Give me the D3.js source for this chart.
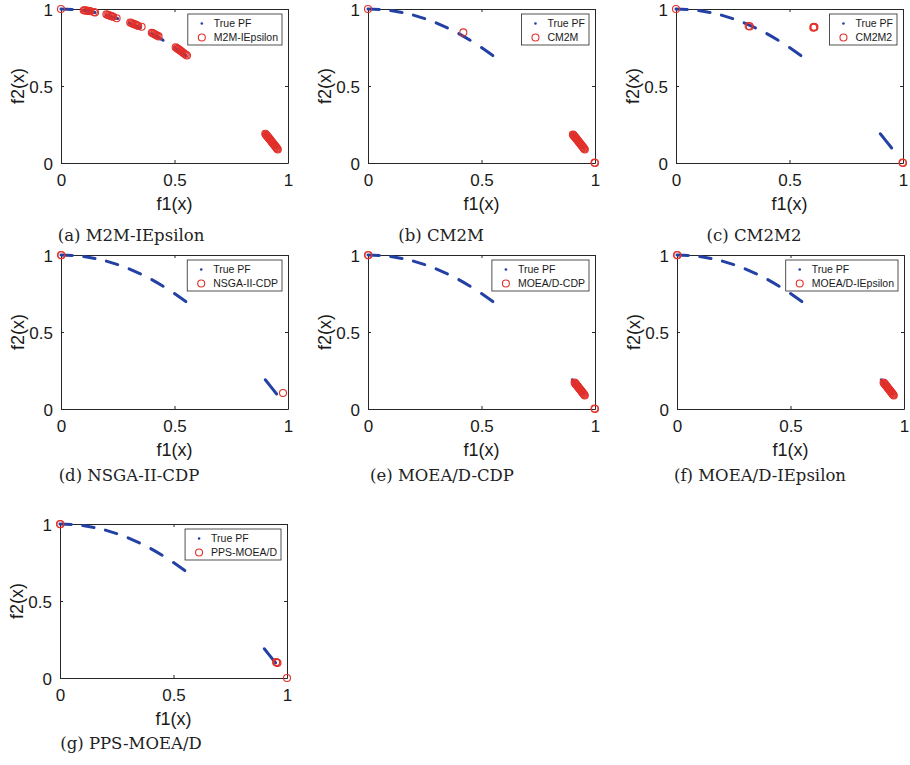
<!DOCTYPE html>
<html lang="en">

<head>
    <meta charset="UTF-8">
    <title>PF results</title>
    <script src="https://cdn.jsdelivr.net/npm/d3@7"></script>
    <style>
        body {
            margin: 0;
            background: #fff;
        }

        .axis path,
        .axis line {
            fill: none;
            stroke: #262626;
        }

        .axis text {
            font-family: "Liberation Sans", Arial, sans-serif;
            font-size: 17px;
            fill: #1a1a1a;
        }
    </style>
</head>

<body>
    <svg id="fig" width="910" height="765"></svg>
</body>

<script>
    // ticks
    const tickVals = [0, 0.5, 1]
    const tickLabels = ['0', '0.5', '1']

    // true PF, one short piece per row (f1 / f2)
    const pfF1 = [
        [0, 0.025, 0.05],
        [0.1, 0.125, 0.15],
        [0.2, 0.225, 0.25],
        [0.3, 0.325, 0.35],
        [0.4, 0.425, 0.45],
        [0.5, 0.525, 0.55],
        [0.9, 0.925, 0.95]
    ]
    const pfF2 = [
        [1, 0.999, 0.9975],
        [0.99, 0.984, 0.9775],
        [0.96, 0.949, 0.9375],
        [0.91, 0.894, 0.8775],
        [0.84, 0.819, 0.7975],
        [0.75, 0.724, 0.6975],
        [0.19, 0.144, 0.0975]
    ]

    // dense group of solutions on the lower PF piece (shared by several runs)
    const lowF1 = [0.9, 0.9025, 0.905, 0.9075, 0.91, 0.9125, 0.915, 0.9175, 0.92, 0.9225, 0.925, 0.9275,
        0.93, 0.9325, 0.935, 0.9375, 0.94, 0.9425, 0.945, 0.9475, 0.95, 0.9525, 0.955]
    const lowF2 = [0.19, 0.185, 0.181, 0.176, 0.172, 0.167, 0.163, 0.158, 0.154, 0.149, 0.144, 0.14,
        0.135, 0.13, 0.126, 0.121, 0.116, 0.112, 0.107, 0.102, 0.098, 0.093, 0.088]

    // algorithm results
    const m2mF1 = [0, 0.1, 0.105, 0.11, 0.115, 0.12, 0.125, 0.13, 0.145, 0.15,
        0.2, 0.205, 0.21, 0.215, 0.22, 0.225, 0.23, 0.245,
        0.305, 0.31, 0.315, 0.32, 0.325, 0.33, 0.335, 0.34, 0.355,
        0.4, 0.405, 0.41, 0.415, 0.42, 0.425, 0.43,
        0.505, 0.51, 0.515, 0.52, 0.525, 0.53, 0.535, 0.54, 0.545, 0.55, 0.555].concat(lowF1)
    const m2mF2 = [1, 0.992, 0.991, 0.99, 0.989, 0.988, 0.987, 0.985, 0.98, 0.977,
        0.966, 0.963, 0.96, 0.957, 0.955, 0.952, 0.949, 0.94,
        0.912, 0.909, 0.906, 0.903, 0.9, 0.897, 0.894, 0.89, 0.885,
        0.845, 0.842, 0.838, 0.834, 0.83, 0.826, 0.822,
        0.752, 0.746, 0.741, 0.736, 0.73, 0.725, 0.719, 0.714, 0.708, 0.703, 0.698].concat(lowF2)

    const cm2mF1 = [0, 0.42, 1, 0.998].concat(lowF1.slice(1, 23))
    const cm2mF2 = [1, 0.848, 0, 0.003].concat(lowF2.slice(1, 23))

    const cm2m2F1 = [0, 0.32, 0.325, 0.607, 0.61, 0.605, 1, 0.998]
    const cm2m2F2 = [1, 0.89, 0.887, 0.885, 0.882, 0.879, 0, 0.003]

    const nsgaF1 = [0, 0.002, 0.978]
    const nsgaF2 = [1, 0.998, 0.104]

    const moeaCdpF1 = [0, 0.002, 1, 0.998].concat(lowF1.slice(4, 23))
    const moeaCdpF2 = [1, 0.998, 0, 0.003].concat(lowF2.slice(4, 23))

    const moeaIepsF1 = [0, 0.002].concat(lowF1.slice(4, 23))
    const moeaIepsF2 = [1, 0.998].concat(lowF2.slice(4, 23))

    const ppsF1 = [0, 0.002, 0.955, 0.958, 0.952, 1]
    const ppsF2 = [1, 0.998, 0.1, 0.098, 0.103, 0]

    const names = ['M2M-IEpsilon', 'CM2M', 'CM2M2', 'NSGA-II-CDP', 'MOEA/D-CDP', 'MOEA/D-IEpsilon', 'PPS-MOEA/D']
    const captions = ['(a) M2M-IEpsilon', '(b) CM2M', '(c) CM2M2', '(d) NSGA-II-CDP', '(e) MOEA/D-CDP',
        '(f) MOEA/D-IEpsilon', '(g) PPS-MOEA/D']
    const resF1 = [m2mF1, cm2mF1, cm2m2F1, nsgaF1, moeaCdpF1, moeaIepsF1, ppsF1]
    const resF2 = [m2mF2, cm2mF2, cm2m2F2, nsgaF2, moeaCdpF2, moeaIepsF2, ppsF2]

    // layout
    const axW = 227
    const axH = 154
    const axLeft = [61, 368, 676, 61, 368, 677, 60]
    const axTop = [9, 9, 9, 255, 255, 255, 524]
    const capX = [131, 441, 754, 129, 442, 760, 131]
    const capY = [241, 241, 241, 481, 481, 481, 749]

    const blue = '#2341a5'
    const red = '#e3302a'

    const svg = d3.select('#fig')

    names.forEach((name, k) => {
        const g = svg.append('g').attr('transform', 'translate(' + axLeft[k] + ',' + axTop[k] + ')')
        const x = d3.scaleLinear().domain([0, 1]).range([0, axW])
        const y = d3.scaleLinear().domain([0, 1]).range([axH, 0])

        // box with inward ticks on all sides
        const xAx = g.append('g').attr('class', 'axis')
            .attr('transform', 'translate(0,' + axH + ')')
            .call(d3.axisBottom(x).tickValues(tickVals).tickFormat((d, i) => tickLabels[i])
                .tickSizeInner(-3).tickSizeOuter(0).tickPadding(8))
        const yAx = g.append('g').attr('class', 'axis')
            .call(d3.axisLeft(y).tickValues(tickVals).tickFormat((d, i) => tickLabels[i])
                .tickSizeInner(-3).tickSizeOuter(0).tickPadding(8))
        g.append('g').attr('class', 'axis')
            .call(d3.axisTop(x).tickValues(tickVals).tickFormat('').tickSizeInner(-3).tickSizeOuter(0))
        g.append('g').attr('class', 'axis')
            .attr('transform', 'translate(' + axW + ',0)')
            .call(d3.axisRight(y).tickValues(tickVals).tickFormat('').tickSizeInner(-3).tickSizeOuter(0))
        xAx.selectAll('text').attr('dy', '0.9em')
        yAx.selectAll('text').attr('dy', '0.36em')

        // true PF
        const line = d3.line().x(d => x(d[0])).y(d => y(d[1]))
        pfF1.forEach((seg, s) => {
            g.append('path')
                .attr('d', line(seg.map((v, j) => [v, pfF2[s][j]])))
                .attr('fill', 'none')
                .attr('stroke', blue)
                .attr('stroke-width', 3)
                .attr('stroke-linecap', 'round')
        })

        // results
        g.selectAll('circle.res')
            .data(resF1[k].map((v, j) => [v, resF2[k][j]]))
            .enter()
            .append('circle')
            .attr('class', 'res')
            .attr('cx', d => x(d[0]))
            .attr('cy', d => y(d[1]))
            .attr('r', 3.5)
            .attr('fill', 'none')
            .attr('stroke', red)
            .attr('stroke-width', 1.1)

        // axis labels
        g.append('text')
            .attr('x', axW / 2)
            .attr('y', axH + 47)
            .attr('text-anchor', 'middle')
            .style('font-family', '"Liberation Sans", Arial, sans-serif')
            .style('font-size', '18px')
            .attr('fill', '#1a1a1a')
            .text('f1(x)')
        g.append('text')
            .attr('transform', 'translate(-37,' + (axH / 2) + ') rotate(-90)')
            .attr('text-anchor', 'middle')
            .style('font-family', '"Liberation Sans", Arial, sans-serif')
            .style('font-size', '18px')
            .attr('fill', '#1a1a1a')
            .text('f2(x)')

        // legend
        const lg = g.append('g')
        const t1 = lg.append('text').attr('x', 0).attr('y', 0)
            .style('font-family', '"Liberation Sans", Arial, sans-serif')
            .style('font-size', '10.5px')
            .attr('fill', '#1a1a1a')
            .text('True PF')
        const t2 = lg.append('text').attr('x', 0).attr('y', 0)
            .style('font-family', '"Liberation Sans", Arial, sans-serif')
            .style('font-size', '10.5px')
            .attr('fill', '#1a1a1a')
            .text(name)
        const tw = Math.max(t1.node().getComputedTextLength(), t2.node().getComputedTextLength())
        const lw = tw + 30
        const lx = axW - 6 - lw
        const ly = 5
        lg.insert('rect', 'text')
            .attr('x', lx).attr('y', ly)
            .attr('width', lw).attr('height', 31)
            .attr('fill', '#fff')
            .attr('stroke', '#262626')
            .attr('stroke-width', 0.8)
        t1.attr('x', lx + 26).attr('y', ly + 13)
        t2.attr('x', lx + 26).attr('y', ly + 27)
        lg.append('circle').attr('cx', lx + 14).attr('cy', ly + 9.5).attr('r', 1.3).attr('fill', blue)
        lg.append('circle').attr('cx', lx + 14).attr('cy', ly + 23.5).attr('r', 3.5)
            .attr('fill', 'none').attr('stroke', red).attr('stroke-width', 1.1)

        // caption
        svg.append('text')
            .attr('x', capX[k])
            .attr('y', capY[k])
            .attr('text-anchor', 'middle')
            .style('font-family', '"DejaVu Serif", serif')
            .style('font-size', '16.5px')
            .attr('fill', '#222')
            .text(captions[k])
    })
</script>

</html>
